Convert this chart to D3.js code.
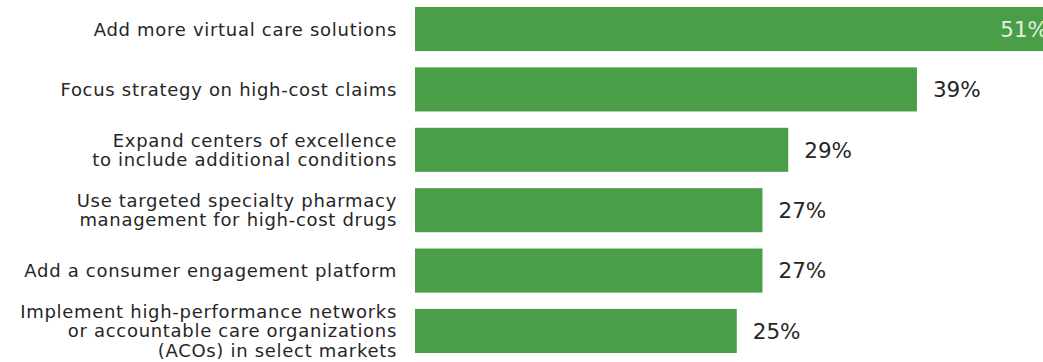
<!DOCTYPE html>
<html>
<head>
<meta charset="utf-8">
<script src="https://cdn.jsdelivr.net/npm/d3@7"></script>
<style>
  html, body { margin: 0; padding: 0; background: #fff; }
  svg { display: block; }
</style>
</head>
<body>
<svg id="chart" width="1043" height="362"></svg>
<script>
// ---- data ----
const categories = [
  ["Add more virtual care solutions"],
  ["Focus strategy on high-cost claims"],
  ["Expand centers of excellence", "to include additional conditions"],
  ["Use targeted specialty pharmacy", "management for high-cost drugs"],
  ["Add a consumer engagement platform"],
  ["Implement high-performance networks", "or accountable care organizations", "(ACOs) in select markets"]
];
const values = [51, 39, 29, 27, 27, 25];
const valueLabels = ["51%", "39%", "29%", "27%", "27%", "25%"];

// ---- layout ----
const W = 1043, H = 362;
const svg = d3.select("#chart");
const barLeft = 415;
const pxPerUnit = 12.87;

const x = d3.scaleLinear().domain([0, 1]).range([barLeft, barLeft + pxPerUnit]);
const y = d3.scaleBand()
  .domain(d3.range(values.length))
  .range([7, 353])
  .paddingInner(0.27)
  .paddingOuter(0);

const green = "#4a9e47";
const textColor = "#262626";
const font = "'DejaVu Sans', Verdana, sans-serif";

const rows = svg.selectAll("g.row")
  .data(values.map((v, i) => ({ v, i, lines: categories[i], lab: valueLabels[i] })))
  .join("g").attr("class", "row");

rows.append("rect")
  .attr("x", x(0))
  .attr("y", d => y(d.i))
  .attr("width", d => x(d.v) - x(0))
  .attr("height", y.bandwidth())
  .attr("fill", green);

// category labels
const lineH = 19.5;
rows.append("text")
  .attr("text-anchor", "end")
  .attr("font-family", font)
  .attr("font-size", 18)
  .attr("letter-spacing", 0.7)
  .attr("fill", textColor)
  .each(function(d) {
    const t = d3.select(this);
    const cy = y(d.i) + y.bandwidth() / 2;
    const n = d.lines.length;
    d.lines.forEach((ln, k) => {
      t.append("tspan")
        .attr("x", 397)
        .attr("y", cy + (k - (n - 1) / 2) * lineH)
        .attr("dy", "0.36em")
        .text(ln);
    });
  });

// value labels
const maxV = d3.max(values);
rows.append("text")
  .attr("font-family", font)
  .attr("font-size", 21.5)
  .attr("dy", "0.36em")
  .attr("y", d => y(d.i) + y.bandwidth() / 2)
  .attr("x", d => d.v === maxV ? Math.min(x(d.v), W) + 5 : x(d.v) + 16)
  .attr("text-anchor", d => d.v === maxV ? "end" : "start")
  .attr("fill", d => d.v === maxV ? "#e3f0e1" : textColor)
  .text(d => d.lab);
</script>
</body>
</html>
